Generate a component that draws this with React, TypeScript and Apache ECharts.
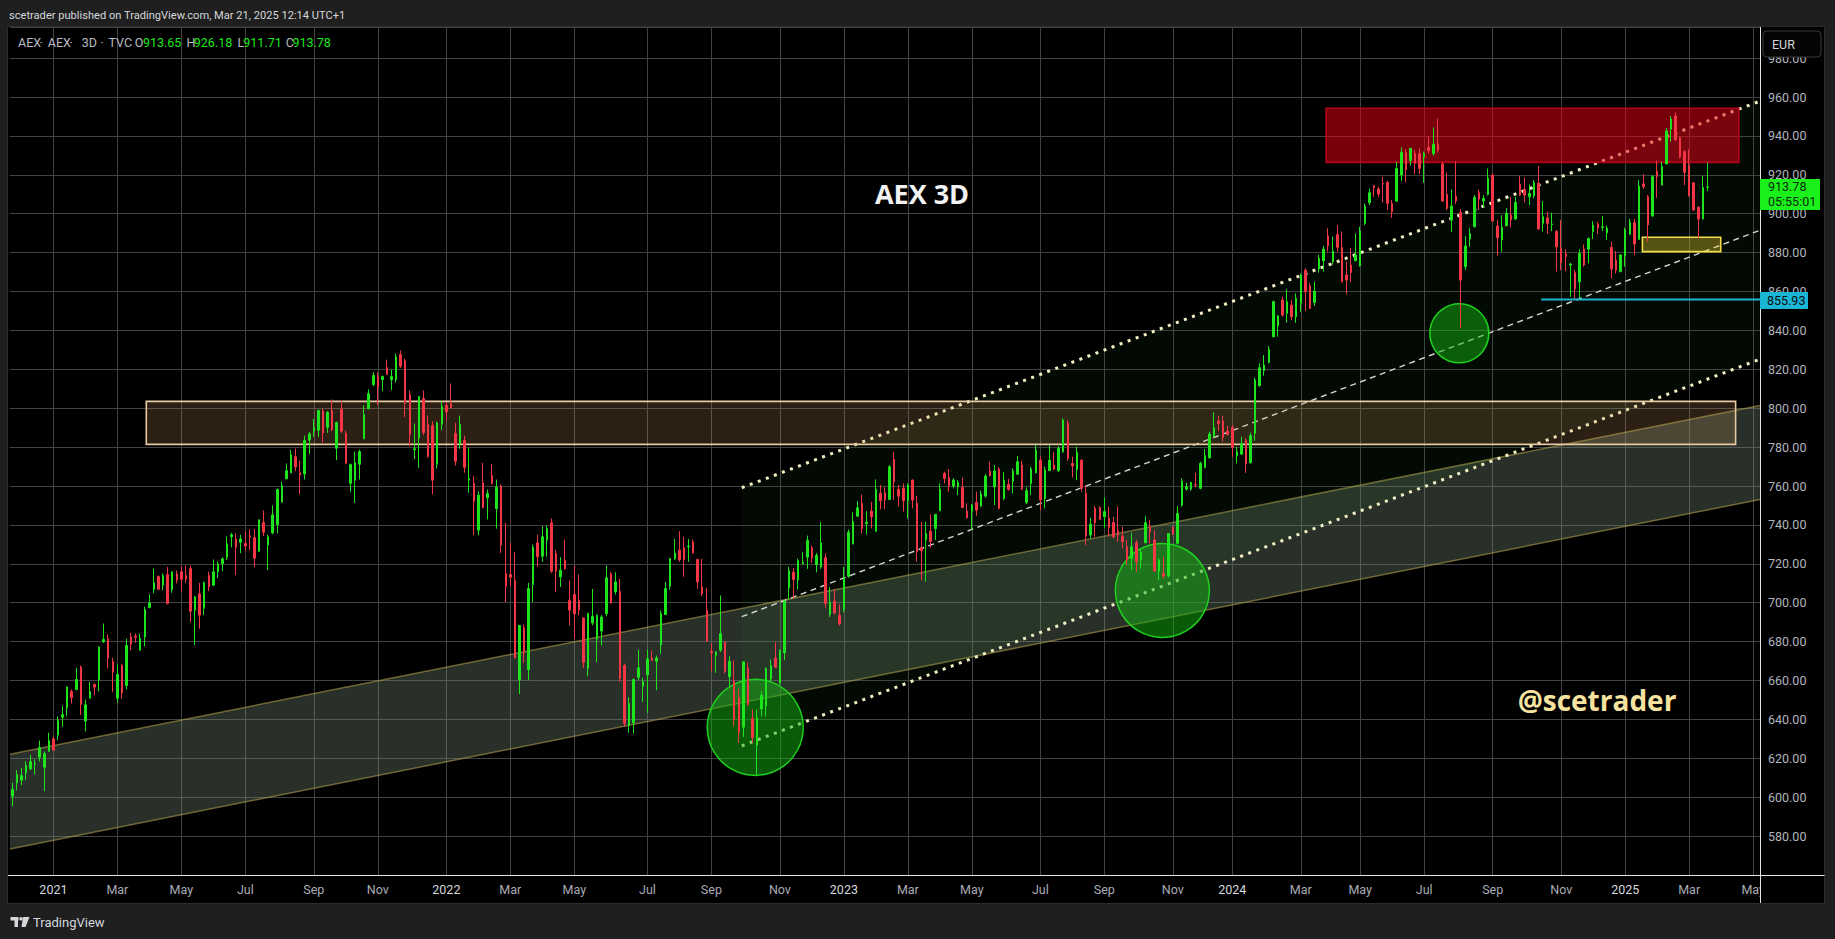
import React, { useEffect, useRef } from "react";
import * as echarts from "echarts";

type Candle = [number, number, number, number]; // open, close, low, high

// Nov 2020 - Jan 2022
const CANDLES_A: Candle[] = [
  [600.5,604,595.4,607.4],[607.4,611.6,603.6,613.9],[608.7,611.1,606.2,615.1],[612.5,616.3,608.7,618.5],[614.6,618.3,613.9,621.8],
  [617,617.3,611.6,619.4],[620.6,625.5,618.3,629.1],[615.4,622.4,603.1,623.5],[623.6,629.1,623.4,633.1],[630,624.2,624,631],
  [632,639.6,629.3,641.6],[641.1,642.5,636.2,647.1],[645.9,656.7,641.6,656.9],[654.3,651.1,648.1,655.4],[655.4,660.5,655,666.5],
  [667,647.6,642.2,667.7],[639.1,647.5,633.9,650.2],[650.9,654.3,650.7,659.3],[657.9,656.6,652.4,658.5],[660.2,677.1,654.5,677.6],
  [680,681.1,679.3,689.3],[681.4,671.5,666.2,683.6],[669.8,664.3,654,671.6],[650.9,663.1,648.5,668.2],[667.7,653.6,650.6,668.6],
  [657.4,678,655.4,681.4],[682.4,678.7,675.6,684.5],[682.8,682.3,679.4,684.1],[675.6,681.6,675.4,684.1],[682.4,696.5,677.6,697.9],
  [697.5,699.9,697.2,704.2],[706.8,710.2,704.9,717.6],[713.5,706.9,706.6,714],[709,714,706.4,715],[714.5,699.6,699.1,718.4],
  [706.8,715.9,705.1,716],[714.8,711.6,709.9,716.5],[715.9,712.1,705.9,718.8],[714,712.1,710.2,719.1],[717.6,695.6,690,718.9],
  [696.1,703,678.3,703.4],[704.5,693.6,686.6,710.2],[697.2,710.2,693.6,710.9],[714,708.1,705.9,715.9],[709,715.9,708.5,722.2],
  [715.9,720,712.6,721.2],[720.1,722.5,716.2,723.4],[723.4,730.2,721.9,734.2],[733.9,734.9,728.5,735.9],[732.8,728.5,714.1,735.6],
  [731.1,732.8,725.5,734.9],[730.4,729.1,726.8,736.6],[734.4,733.7,727,737.6],[733.5,722.9,718.3,738],[726.5,742.6,726,742.8],
  [741.2,736.2,734.2,747.4],[729.7,733.9,716.7,734.9],[735.9,745.2,735.2,750],[740.2,758.2,735.7,758.7],[751.7,760.2,751.5,762.3],
  [763.7,767.9,763.5,771.6],[766.8,776,766.6,778.7],[775.1,769.8,767.6,779.3],[766.8,765.6,755.8,773.1],[766.2,783.4,763.3,785.9],
  [783.6,786.8,776.4,787.8],[788.2,790.1,785.3,794.5],[788.7,798.8,785.1,799.3],[798.5,787.2,782.5,799.8],[790.2,797.8,787.3,798.5],
  [798.8,789,788.2,804.5],[779.4,792.6,773.3,793.1],[799.3,788.2,787.3,803.8],[787,771.7,771.5,788.5],[761.4,771,756.8,771.6],
  [763,771.9,751.3,777.7],[771.2,777.7,763.3,778.7],[784.4,796.7,783.9,801.4],[799.8,807.5,799.3,809.6],[812.2,816.8,811.3,818.5],
  [816.3,811,801.5,818.5],[814.7,816.3,808.7,816.8],[820.9,817.5,817.3,825],[814.7,816.3,809.3,819.9],[814.7,826.4,813.2,828.1],
  [827.6,821.6,820.7,829.7],[824.5,802.6,795.4,825.5],[807,786.6,780.5,809.1],[778.6,779.1,773.8,792.1],[784.7,806,769.3,806.2],
  [805,787.5,786.1,809.1],[791.6,775.2,774.5,796.2],[791.1,763,755.8,793.3],[771.2,792.5,769,793.1],[791.8,800.9,788.7,803.6],
  [801.5,798.1,793.8,803.1],
];

// Jan 2022 - Feb 2023
const CANDLES_B: Candle[] = [
  [802.4,800.2,800,812.7],[787,772.7,770.5,792.5],[781.8,791.6,779.1,796.2],[783.4,769.7,766.8,785.9],[763,763.8,756.5,779.6],
  [761.3,752.2,734.7,765],[737.3,755.3,734.7,757.3],[761.6,748.8,748.6,771.9],[753.9,756.1,742.8,758.2],[765.4,761.3,760.8,771.4],
  [748.4,759.4,738.1,763.3],[759.9,729.6,725.6,760.8],[715,708.5,700.3,741.1],[714.5,713.1,708.5,730.8],[711.4,671.6,671.4,725.9],
  [660.2,688.3,653.1,688.5],[687.1,674.2,669.1,688.8],[665.6,707.3,660.2,710.2],[709.3,728.5,700.3,729.9],[730.8,723.6,718.4,735],
  [723.9,733.9,721,739.3],[732.1,738.1,723.6,739.7],[741.1,716.2,715.3,743.3],[725.3,716.2,705.4,727.3],[713.3,716.7,708.1,723.4],
  [721.9,717.4,717.1,732.5],[701.1,696.2,688.3,711.4],[704.2,694.3,681.4,719.1],[701.3,696.2,693.4,714.5],[692.2,669.4,666.5,692.4],
  [666.2,694.4,662.2,694.8],[689.6,693,688.3,707.1],[681.4,693.6,669.4,693.9],[685.4,692.7,678,693.6],[694.4,712.8,693,719.1],
  [714.8,699.9,699.6,715.7],[705.6,710.7,704.2,715.7],[705.9,661,659.3,712.3],[667.7,637.9,636.2,668.7],[637,648.1,633.1,651.4],
  [638.2,660.5,632.7,661],[661.7,666.5,660.2,675.9],[657.1,659.6,649,661.4],[662.9,671.1,643.4,675.9],[671.6,670.4,669.9,675.4],
  [669.9,671.6,655,672.8],[678.2,694.4,673.7,696],[693.9,707.3,693.7,710.7],[708.5,722.6,706.8,723.1],[722.6,725.6,721.9,732.8],
  [727,722.2,721,736.8],[728.2,722.2,713.3,733.9],[728.7,729.1,721,732.8],[731.3,725.6,725.3,732.5],[722.2,710.7,707.3,722.6],
  [708.1,704.7,703.4,722.6],[696,680.2,680,707.6],[674.9,674.2,664.8,679.3],[672.8,674.6,663.9,675.1],[675.6,684.1,674.6,703.7],
  [679.7,664.8,663.6,680.2],[661.9,669.9,657.1,672.5],[659.6,639.9,636.5,670.3],[651.1,633.4,627.9,655.7],[636,669.6,631,669.8],
  [666.5,647.7,646.8,669.1],[640.4,630.5,627.9,645.1],[626.7,640.8,611.6,645.1],[645.4,652.3,641.6,654.5],[646.8,666.2,641.6,666.8],
  [660.8,667.7,659.6,670.8],[671.6,666.8,666.5,679.7],[658.8,675.6,657.9,675.8],[674.2,700.8,670.4,701.3],[707.6,716.5,701.6,718.4],
  [715.7,711.9,702,717.9],[711.6,721.7,706.8,722.6],[720.1,720.8,719.6,726],[723.4,732,717.4,734.5],[728.2,723.1,720.5,729.4],
  [719.6,724.3,715.7,725.6],[718.4,730.8,717.4,741.4],[723.1,699.6,697.4,725.3],[693.9,700.3,692.7,708],[700.8,694.8,693.9,707.1],
  [693.6,689.1,688.3,699.1],[696.8,712.8,695.1,718.4],[713.6,736.2,712.8,737.6],[730.3,741.6,729.9,746.5],[744.5,748.8,744.1,752.2],
  [751,738.1,735.6,755.6],[740.7,741.4,735.1,747],[747.1,744.2,738.2,751.9],
];

// Feb 2023 - Mar 2024
const CANDLES_C: Candle[] = [
  [736.8,758.3,736.5,763.4],[756.2,752.4,748,760.5],[756.5,752.8,748.2,759.3],[753.1,769.9,752.8,770.8],[773.7,762.2,752.8,777.6],
  [758.3,754.8,749.4,760.5],[758.8,752.4,746.8,761.3],[752.8,760.5,743.3,761.3],[763.1,752.8,748.5,763.3],[751.1,726.2,721.1,755],
  [728.4,726.7,711.6,741.6],[732.2,735.6,710.8,741.6],[736.8,731.4,728.3,745.4],[738.2,745.4,732.2,745.6],[747.3,758.4,747.1,761.3],
  [766.5,763.9,761.3,767.3],[764.4,760,757.1,768.7],[760,763.1,758.8,763.9],[759.6,761.9,755.3,763.1],[759.3,749,748.5,764.4],
  [747.1,743.7,743.3,751.1],[747.1,750.2,737.4,750.6],[751.6,747.6,744.7,757.1],[749.7,755.9,749.4,757.6],[754.8,765.1,754.1,766.1],
  [767.7,765.3,764.8,772.5],[759.6,767.7,750.2,770.8],[768.7,748.5,748,769.6],[753.6,763.1,752.8,767.3],[760.8,758.3,757.6,763.6],
  [762.5,767.7,756.2,769.1],[766.1,772.5,765.6,775.4],[770.8,758.4,757.9,773],[751.6,757.6,750.7,759.3],[761.3,768.7,755.3,769.9],
  [766.8,778.5,766.5,781],[773.3,752.8,747.3,775.1],[753.6,768.2,748.5,769.9],[767.9,773.3,767.9,781],[770.8,768.7,768.2,777.6],
  [767.9,779.4,767.3,780.5],[777.6,793.9,777.1,794.8],[792.2,774.2,773,793.9],[771.6,770.3,764.4,775.1],[768.5,777.3,763.1,780.2],
  [773.3,758.8,757.1,773.7],[756.2,734.3,729.6,760.5],[734.8,740.4,733.1,743.7],[748.5,741.1,733.9,749.7],[748.8,742.8,742.5,749.7],
  [744.2,746.8,738.5,754.1],[743.3,738.7,733.9,749.4],[741.3,733.9,733.1,744.2],[737,734.8,731.4,749.4],[734.3,731.4,727.9,739.1],
  [728.8,721.9,719.3,732.2],[722.8,728.8,716.8,736],[730.8,721.1,715.9,732.2],[721.9,725.7,717.6,727.1],[730.8,741.1,730.5,744.5],
  [739.1,736.5,730.5,742.5],[732.2,716.3,715.9,737.3],[716.3,721.9,711.6,722.8],[715.1,713.7,712.5,723.6],[713.7,735.6,713,735.7],
  [738.7,735.6,734.8,739.4],[730.5,745.9,730,749.7],[750.2,762.5,749.4,763.9],[758.4,759.6,757.6,761.7],[758.4,761.9,757.6,761.9],
  [760.8,760.5,759.3,766.8],[758.8,771.6,758.3,772.5],[769.6,775.6,769.1,779],[774.5,786.7,774.2,787.9],[785.3,790,785,797.9],
  [793.4,792.2,788.3,796.1],[793.4,785,782.8,796],[788.3,786.5,785.9,791],[790.1,779.9,775.1,791.3],[775.6,777.6,771.6,780.2],
  [776.4,781.6,775.9,785.3],[783.6,771.3,766.8,784.5],[772,785.9,771.6,787.4],[787.1,814.5,783.3,815.7],[811.6,820.8,811.1,823.1],
  [819.3,822.2,816.7,827.3],[823.6,830.2,823.1,831.9],[836.8,854.8,836.4,855.3],[842.4,847.4,836.8,847.9],[855.6,847.9,847.1,857.3],
  [848.8,854.8,844,861.1],[853,847.1,845.3,855.6],[847,856.5,843.9,859],
];

// Mar 2024 - Mar 2025
const CANDLES_D: Candle[] = [
  [853.9,868.5,849.6,869.3],[871,859.9,849.9,871.9],[862.8,851.3,851,864.2],[854.4,860.2,852.7,865],[871.6,877,869.7,878.8],
  [875.8,881.8,870.2,883.6],[888.5,883.6,880.5,892.5],[875.3,880.8,873.9,888.2],[889.4,882.7,880.5,894.2],[882.7,865,864.7,890.8],
  [868.5,865.9,858.5,875.3],[873.6,869.8,864.7,882.5],[875.8,878.8,875.6,889.9],[873.3,891.1,872.8,893.3],[895,903.9,894.2,905.3],
  [905.7,910.8,904.5,913],[914.4,913.4,908.7,914.7],[912.7,910.1,908.7,913.9],[915.6,915.3,905.8,919],[916.1,905.3,901.9,916.8],
  [905.3,901,897.9,907],[906.5,923.3,906.2,926.7],[919.9,931.5,916.8,934.1],[931.5,922.5,916.1,933.3],[927.3,933.6,924.7,933.7],
  [931,925.9,920.4,932.7],[931,923.3,920.4,933.6],[929.3,931,915.9,931.9],[934.1,932.4,931,939.6],[931,935.7,929.8,944.4],
  [935.7,932.7,931.5,949],[925.6,906.5,906.2,926.7],[909.9,902.7,901.9,921.3],[896.8,903.9,890.7,912.5],[909.1,906.5,905,927.1],
  [900.7,865.9,841,902.4],[872.8,883.4,871,888.5],[887,889.9,883,892.8],[893.3,908.4,893,909.6],[910.8,907.5,901.9,912.5],
  [906.5,907.9,903.1,909.6],[909.9,918.2,909.3,923.3],[919.9,896.2,895.9,920.7],[893.7,887.7,878.4,896.8],[886.5,893,880.5,899.3],
  [893.8,900.2,893.7,902.8],[899.3,896.8,893,908.7],[897.3,905.8,896.8,908.7],[915.1,909.6,909.1,919.5],[912.5,909.6,905.7,918.7],
  [908.7,910.4,904.5,915.1],[909.3,915.9,907.9,917.3],[915.6,892.1,892,924.5],[895,898.5,890.8,906.5],[897.9,895,889.6,901],
  [894.5,894.7,891.1,900.5],[890.8,883,870.2,891.6],[882.2,874.8,871,896.8],[879.3,877.9,870.5,881.8],[873.6,874.1,857.3,874.8],
  [869.7,861.3,855.9,871],[865,879.6,855.5,881.8],[881.8,873.6,872.8,884.2],[881.8,887.3,874.5,887.7],[890.8,894.2,887,896.2],
  [894.7,892.8,889.4,895.9],[893,893.3,891.1,898.8],[890.2,892.5,886.5,893.8],[882.7,871.6,866.8,885.6],[876.2,871,869.3,880.8],
  [870.2,878.8,870,879],[878.2,891.6,872.8,892.8],[889.5,895.6,889,897.3],[895.4,884.4,878.8,897.3],[886.8,914.2,886.5,917.3],
  [915.3,913.9,912.7,920.4],[908.7,894.2,885.6,909.6],[898.8,919,898.5,919.9],[921.9,919,908.2,927.3],[914.8,924.2,914.6,926.7],
  [925.6,942.5,925.5,944.2],[943.5,948.7,937,950.2],[950.2,937.9,937.5,952.1],[939.1,929.3,928.5,939.6],[931.9,921.3,914.7,932.7],
  [924.5,909.1,909,933.1],[915.9,901.9,901.5,916.1],[903.3,897.3,887.3,903.9],[897.3,913.5,897.1,919.4],[913.65,913.78,911.71,926.18],
];

const CANDLES: Candle[] = [...CANDLES_A, ...CANDLES_B, ...CANDLES_C, ...CANDLES_D];
const SLOT_COUNT = 383; // bar slots incl. empty space on the right
const SLOTS = Array.from({ length: SLOT_COUNT }, (_, i) => String(i));

const TIME_TICKS: [number, string][] = [
  [9, "2021"], [23, "Mar"], [37, "May"], [51, "Jul"], [66, "Sep"], [80, "Nov"],
  [95, "2022"], [109, "Mar"], [123, "May"], [139, "Jul"], [153, "Sep"], [168, "Nov"],
  [182, "2023"], [196, "Mar"], [210, "May"], [225, "Jul"], [239, "Sep"], [254, "Nov"],
  [267, "2024"], [282, "Mar"], [295, "May"], [309, "Jul"], [324, "Sep"], [339, "Nov"],
  [353, "2025"], [367, "Mar"], [381, "May"],
];

const PRICE_MIN = 560;
const PRICE_MAX = 996;
const PRICE_STEP = 20;

const LAST_PRICE = 913.78;
const LEGEND_WORDS: [number, string][] = [
  [18, "AEX"], [39.5, "·"], [47.8, "AEX"], [69.5, "·"], [81.7, "3D"], [100.3, "·"], [108.5, "TVC"],
];
const LEGEND_VALUES: [number, string, number, string][] = [
  [134.8, "O", 142.9, "913.65"],
  [186.6, "H", 193.8, "926.18"],
  [237.5, "L", 243.3, "911.71"],
  [285.7, "C", 292.4, "913.78"],
];

// Drawings (x in bar slots, y in price)
const BAND_X = [-0.5, 382.5];
const BAND_UPPER = [622.1, 801.4];
const BAND_LOWER = [573.4, 753.1];
const CHANNEL_X = [159.65, 382.5];
const CHANNEL_UPPER = [759.1, 957.9];
const CHANNEL_MID = [692.8, 891.5];
const CHANNEL_LOWER = [626.4, 825.2];
const RESIST_ZONE = [29.33, 377.16, 781.4, 803.5];
const TOP_ZONE = [287.53, 377.86, 926.4, 954.2];
const SUPPORT_BOX = [356.76, 373.9, 880.5, 887.9];
const LEVEL_LINE = [334.6, 382.5, 855.93];
const CIRCLES: [number, number, number][] = [
  [162.6, 635.9, 48],
  [251.7, 706.3, 47],
  [316.7, 838.5, 29.5],
];

const UP = "#1ee41e";
const DOWN = "#f23645";
const FONT = "Roboto, 'Liberation Sans', sans-serif";

function layer(z: number, build: (p: (x: number, y: number) => number[]) => any[]) {
  return {
    type: "custom",
    xAxisIndex: 1,
    yAxisIndex: 0,
    z,
    silent: true,
    data: [[0, 700]],
    renderItem: (_params: any, api: any) => {
      const p = (x: number, y: number) => api.coord([x, y]);
      return { type: "group", children: build(p) };
    },
  };
}

function rectFrom(p: (x: number, y: number) => number[], r: number[]) {
  const a = p(r[0], r[3]);
  const b = p(r[1], r[2]);
  return { x: a[0], y: a[1], width: b[0] - a[0], height: b[1] - a[1] };
}

function lineFrom(p: (x: number, y: number) => number[], xs: number[], ys: number[]) {
  const a = p(xs[0], ys[0]);
  const b = p(xs[1], ys[1]);
  return { x1: a[0], y1: a[1], x2: b[0], y2: b[1] };
}

export default function App() {
  const ref = useRef<HTMLDivElement>(null);

  useEffect(() => {
    const el = ref.current;
    if (!el) return;
    const chart = echarts.init(el, null, { renderer: "svg" });
    const tickSet = new Map<number, string>(TIME_TICKS);

    const option: any = {
      animation: false,
      backgroundColor: "#1f1f1f",
      grid: { left: 10, right: 75, top: 27, bottom: 64, containLabel: false },
      xAxis: [
        {
          type: "category",
          data: SLOTS,
          boundaryGap: true,
          axisLine: { show: false },
          axisTick: { show: false },
          axisLabel: {
            interval: (i: number) => tickSet.has(i),
            formatter: (_v: string, i: number) => {
              const t = tickSet.get(i) || "";
              return /^\d{4}$/.test(t) ? `{y|${t}}` : `{m|${t}}`;
            },
            margin: 8,
            rich: {
              y: { color: "#d6d8de", fontSize: 12.5, fontFamily: FONT },
              m: { color: "#a9acb4", fontSize: 12.5, fontFamily: FONT },
            },
          },
          splitLine: {
            show: true,
            interval: (i: number) => tickSet.has(i),
            alignWithLabel: true,
            lineStyle: { color: "#424242", width: 1 },
          },
        },
        { type: "value", min: -0.5, max: 382.5, show: false },
      ],
      yAxis: {
        type: "value",
        position: "right",
        min: PRICE_MIN,
        max: PRICE_MAX,
        interval: PRICE_STEP,
        axisLine: { show: false },
        axisTick: { show: false },
        axisLabel: {
          formatter: (v: number) => v.toFixed(2),
          color: "#b2b5be",
          fontSize: 12.5,
          fontFamily: FONT,
          margin: 8,
          showMinLabel: false,
          showMaxLabel: false,
        },
        splitLine: { show: true, lineStyle: { color: "#424242", width: 1 } },
      },
      series: [
        layer(1, (p) => [
          {
            type: "polygon",
            shape: { points: [p(BAND_X[0], BAND_UPPER[0]), p(BAND_X[1], BAND_UPPER[1]), p(BAND_X[1], BAND_LOWER[1]), p(BAND_X[0], BAND_LOWER[0])] },
            style: { fill: "rgba(125,145,125,0.33)" },
          },
          { type: "line", shape: lineFrom(p, BAND_X, BAND_UPPER), style: { stroke: "rgba(185,170,80,0.55)", lineWidth: 1.5 } },
          { type: "line", shape: lineFrom(p, BAND_X, BAND_LOWER), style: { stroke: "rgba(185,170,80,0.55)", lineWidth: 1.5 } },
          {
            type: "polygon",
            shape: { points: [p(CHANNEL_X[0], CHANNEL_UPPER[0]), p(CHANNEL_X[1], CHANNEL_UPPER[1]), p(CHANNEL_X[1], CHANNEL_LOWER[1]), p(CHANNEL_X[0], CHANNEL_LOWER[0])] },
            style: { fill: "rgba(40,130,40,0.08)" },
          },
        ]),
        layer(2, (p) => [
          { type: "line", shape: lineFrom(p, CHANNEL_X, CHANNEL_UPPER), style: { stroke: "#f3efc4", lineWidth: 3, lineDash: [3, 5.6], lineCap: "butt" } },
          { type: "line", shape: lineFrom(p, CHANNEL_X, CHANNEL_LOWER), style: { stroke: "#f3efc4", lineWidth: 3, lineDash: [3, 5.6], lineCap: "butt" } },
          { type: "line", shape: lineFrom(p, CHANNEL_X, CHANNEL_MID), style: { stroke: "rgba(235,235,235,0.9)", lineWidth: 1.4, lineDash: [6, 4.5] } },
        ]),
        layer(3, (p) => [
          { type: "rect", shape: rectFrom(p, RESIST_ZONE), style: { fill: "rgba(220,160,100,0.2)", stroke: "#e6c9a1", lineWidth: 1.6 } },
          { type: "rect", shape: rectFrom(p, TOP_ZONE), style: { fill: "rgba(240,0,26,0.5)", stroke: "rgba(190,0,25,0.95)", lineWidth: 1.6 } },
          { type: "rect", shape: rectFrom(p, SUPPORT_BOX), style: { fill: "rgba(235,212,50,0.36)", stroke: "#f2de48", lineWidth: 1.6 } },
          ...CIRCLES.map(([x, y, r]) => {
            const c = p(x, y);
            return { type: "circle", shape: { cx: c[0], cy: c[1], r }, style: { fill: "rgba(20,180,20,0.5)", stroke: "#1fd01f", lineWidth: 1.5 } };
          }),
        ]),
        {
          type: "candlestick",
          xAxisIndex: 0,
          yAxisIndex: 0,
          z: 4,
          silent: true,
          barWidth: 2,
          data: CANDLES,
          itemStyle: { color: UP, color0: DOWN, borderColor: UP, borderColor0: DOWN, borderWidth: 1 },
        },
        layer(5, (p) => [
          { type: "line", shape: lineFrom(p, [LEVEL_LINE[0], LEVEL_LINE[1]], [LEVEL_LINE[2], LEVEL_LINE[2]]), style: { stroke: "#1db4d4", lineWidth: 2 } },
        ]),
      ],
    };
    chart.setOption(option);

    const yLast = chart.convertToPixel({ yAxisIndex: 0 }, LAST_PRICE) as number;
    const yLevel = chart.convertToPixel({ yAxisIndex: 0 }, LEVEL_LINE[2]) as number;

    const txt = (x: number, y: number, text: string, fill: string, extra: any = {}) => ({
      type: "text",
      x,
      y,
      z: 60,
      silent: true,
      style: { text, fill, fontSize: 12.5, fontFamily: FONT, verticalAlign: "middle", align: "left", ...extra },
    });

    const elements: any[] = [
      { type: "rect", z: -10, silent: true, shape: { x: 7.5, y: 26.5, width: 1817, height: 877 }, style: { fill: "#000", stroke: "#2c2c2c", lineWidth: 1 } },
      { type: "rect", z: 30, silent: true, shape: { x: 1761, y: 877, width: 63, height: 26 }, style: { fill: "#000" } },
      { type: "line", z: 40, silent: true, shape: { x1: 8, y1: 875.5, x2: 1824.5, y2: 875.5 }, style: { stroke: "#e6e6e6", lineWidth: 1 } },
      { type: "line", z: 40, silent: true, shape: { x1: 1760.5, y1: 27, x2: 1760.5, y2: 903 }, style: { stroke: "#e6e6e6", lineWidth: 1 } },
      txt(9, 15, "scetrader published on TradingView.com, Mar 21, 2025 12:14 UTC+1", "#d5d7dc", { fontSize: 11.1 }),
      ...LEGEND_WORDS.map(([x, w]) => txt(x, 42, w, "#b8bbc2")),
      ...LEGEND_VALUES.flatMap(([xl, l, xv, v]) => [txt(xl, 42, l, "#b8bbc2"), txt(xv, 42, v, UP)]),
      { type: "rect", z: 55, silent: true, shape: { x: 1763, y: 31, width: 58, height: 26, r: 4 }, style: { fill: "#050505", stroke: "#3a3a3a", lineWidth: 1 } },
      txt(1772, 44, "EUR", "#d5d7dc", { fontSize: 12.5 }),
      txt(922, 193, "AEX 3D", "#f2f2f2", { fontSize: 27, fontWeight: "bold", fontFamily: "'Open Sans', 'DejaVu Sans', sans-serif", align: "center" }),
      txt(1597, 700, "@scetrader", "#f6e3a0", { fontSize: 28, fontWeight: "bold", fontFamily: "'Open Sans', 'DejaVu Sans', sans-serif", align: "center" }),
      { type: "rect", z: 55, silent: true, shape: { x: 1760, y: yLast - 8, width: 60, height: 31 }, style: { fill: "#1af01a" } },
      txt(1768, yLast - 0.3, "913.78", "#0a2a0a", { fontSize: 12.5 }),
      txt(1768, yLast + 14.7, "05:55:01", "#0a2a0a", { fontSize: 12.5 }),
      { type: "rect", z: 55, silent: true, shape: { x: 1760, y: yLevel - 7.5, width: 48, height: 17 }, style: { fill: "#1bb6d6" } },
      txt(1767, yLevel + 1, "855.93", "#0a0a0a", { fontSize: 12.5 }),
      { type: "rect", z: 60, silent: true, shape: { x: 10.5, y: 917, width: 8, height: 3.5 }, style: { fill: "#d5d7dc" } },
      { type: "rect", z: 60, silent: true, shape: { x: 14.5, y: 917, width: 3.5, height: 10 }, style: { fill: "#d5d7dc" } },
      { type: "circle", z: 60, silent: true, shape: { cx: 21, cy: 918.8, r: 1.8 }, style: { fill: "#d5d7dc" } },
      { type: "polygon", z: 60, silent: true, shape: { points: [[23, 917], [29.5, 917], [25.5, 927], [21.5, 927]] }, style: { fill: "#d5d7dc" } },
      txt(33, 922, "TradingView", "#d5d7dc", { fontSize: 13 }),
    ];
    chart.setOption({ graphic: { elements } });

    return () => chart.dispose();
  }, []);

  return <div ref={ref} style={{ position: "fixed", left: 0, top: 0, width: 1835, height: 939 }} />;
}
